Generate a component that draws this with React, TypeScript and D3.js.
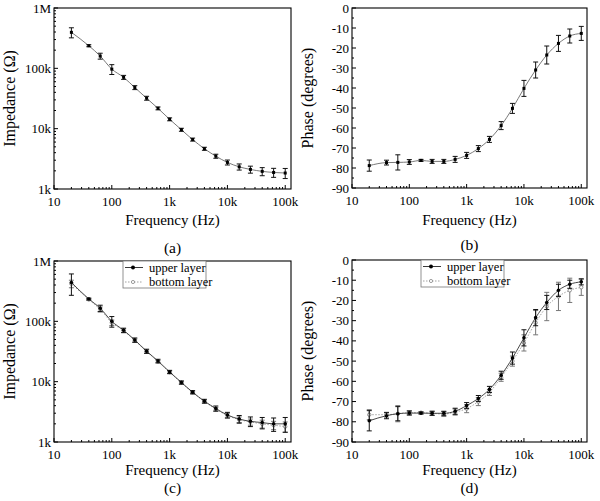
import React from "react";
import * as d3 from "d3";

const freqs = [20, 40, 63, 100, 160, 250, 400, 630, 1000, 1600, 2500, 4000, 6300, 10000, 16000, 25000, 40000, 63000, 100000];

const impA = [395000, 237000, 160000, 97000, 71000, 48000, 32000, 21700, 14300, 9600, 6600, 4650, 3500, 2760, 2330, 2110, 1960, 1880, 1840];
const impAErr = [75000, 9000, 18000, 18000, 5400, 3600, 2400, 1200, 800, 550, 380, 270, 270, 260, 270, 280, 300, 320, 350];

const phaseB = [-78.8, -77.3, -77.2, -77.0, -76.2, -76.7, -76.7, -75.7, -73.7, -70.3, -65.7, -58.8, -50.2, -40.2, -31, -23.5, -17.7, -14, -12.7];
const phaseBErr = [2.8, 1.2, 3.8, 1.2, 0.5, 1, 1, 1.5, 1.5, 1.5, 1.5, 2, 2.5, 4, 4, 4.5, 4, 3.5, 3.5];

const impUpper = [440000, 235000, 165000, 100000, 71000, 49000, 32000, 22000, 14500, 9700, 6700, 4750, 3600, 2800, 2400, 2200, 2100, 2000, 2000];
const impUpperErr = [170000, 8000, 20000, 20000, 6000, 4000, 2500, 1500, 900, 600, 400, 350, 350, 300, 350, 400, 450, 500, 550];
const impBottom = [420000, 230000, 158000, 95000, 70000, 48000, 31500, 21500, 14300, 9600, 6600, 4700, 3500, 2750, 2350, 2150, 2000, 1900, 1800];
const impBottomErr = [60000, 8000, 15000, 10000, 5000, 3000, 2000, 1000, 700, 500, 350, 250, 250, 250, 250, 250, 300, 300, 350];

const phaseUpper = [-79.5, -77, -76, -75.7, -75.7, -75.8, -75.8, -74.8, -72, -68.5, -64, -57, -48.5, -38.5, -28.5, -21, -15, -12, -10.8];
const phaseUpperErr = [5, 1.5, 3.5, 1, 0.5, 1, 1, 1.5, 1.5, 1.5, 1.5, 2, 3, 4, 4, 3.5, 3, 2, 1.5];
const phaseBottom = [-76.5, -76.5, -76, -75.5, -75.5, -75.8, -76.2, -75.2, -73.5, -70, -65.5, -58, -50, -41, -31, -23, -18, -15, -13.5];
const phaseBottomErr = [2.5, 1.2, 4, 1, 0.5, 1, 1.2, 1.5, 2, 2, 1.5, 2, 2.5, 4, 6, 7, 7, 6, 4];

const xTickLabels = ["10", "100", "1k", "10k", "100k"];
const impTickLabels = ["1k", "10k", "100k", "1M"];
const phaseTickLabels = ["0", "-10", "-20", "-30", "-40", "-50", "-60", "-70", "-80", "-90"];
const legendLabels = ["upper layer", "bottom layer"];
const panelLabels = ["(a)", "(b)", "(c)", "(d)"];

const FONT = "'Liberation Serif', 'Times New Roman', serif";

type Series = { values: number[]; errs: number[]; kind: "single" | "upper" | "bottom" };

type PanelProps = {
  left: number; top: number; right: number; bottom: number;
  logY: boolean; yTitle: string; label: string; series: Series[]; legend: boolean;
  titleOff: number; labelOff: number;
};

function Panel({ left, top, right, bottom, logY, yTitle, label, series, legend, titleOff, labelOff }: PanelProps) {
  const x = d3.scaleLog().domain([10, Math.pow(10, 5.1)]).range([left, right]);
  const y: any = logY
    ? d3.scaleLog().domain([1000, 1e6]).range([bottom, top])
    : d3.scaleLinear().domain([-90, 0]).range([bottom, top]);

  const xMajors = [10, 100, 1000, 10000, 100000];
  const xMinors: number[] = [];
  for (let dec = 10; dec < 200000; dec *= 10)
    for (let m = 2; m <= 9; m++) if (dec * m < Math.pow(10, 5.1)) xMinors.push(dec * m);

  const yMajors = logY ? [1000, 10000, 100000, 1e6] : d3.range(0, -91, -10);
  const yLabels = logY ? impTickLabels : phaseTickLabels;
  const yMinors: number[] = [];
  if (logY) {
    for (let dec = 1000; dec < 1e6; dec *= 10) for (let m = 2; m <= 9; m++) yMinors.push(dec * m);
  } else {
    for (let v = -85; v < 0; v += 10) yMinors.push(v);
  }

  const line = d3.line<number>().x((_, i) => x(freqs[i])).y((v) => y(v)).curve(d3.curveMonotoneX);
  const cx = (left + right) / 2;
  const cy = (top + bottom) / 2;

  return (
    <g>
      {series.map((s, si) => {
        const stroke = s.kind === "bottom" ? "#9a9a9a" : s.kind === "upper" ? "#333" : "#6a6a6a";
        const errColor = s.kind === "bottom" ? "#777" : "#111";
        return (
          <g key={si}>
            <path d={line(s.values) || ""} fill="none" stroke={stroke} strokeWidth={0.9}
              strokeDasharray={s.kind === "bottom" ? "1.5,1.5" : undefined} />
            {s.values.map((v, i) => {
              const px = x(freqs[i]);
              const hi = y(v + s.errs[i]);
              const loY = logY ? y(Math.max(v - s.errs[i], 1001)) : y(v - s.errs[i]);
              return (
                <g key={i}>
                  <line x1={px} x2={px} y1={loY} y2={hi} stroke={errColor} strokeWidth={1} />
                  <line x1={px - 2.5} x2={px + 2.5} y1={loY} y2={loY} stroke={errColor} strokeWidth={1} />
                  <line x1={px - 2.5} x2={px + 2.5} y1={hi} y2={hi} stroke={errColor} strokeWidth={1} />
                  {s.kind === "bottom" ? (
                    <circle cx={px} cy={y(v)} r={1.7} fill="white" stroke="#777" strokeWidth={0.8} />
                  ) : s.kind === "upper" ? (
                    <circle cx={px} cy={y(v)} r={1.8} fill="#000" />
                  ) : (
                    <rect x={px - 1.5} y={y(v) - 1.5} width={3} height={3} fill="#000" />
                  )}
                </g>
              );
            })}
          </g>
        );
      })}

      <rect x={left} y={top} width={right - left} height={bottom - top} fill="none" stroke="#000" strokeWidth={1.1} />

      {xMajors.map((t, i) => (
        <g key={"xm" + i}>
          <line x1={x(t)} x2={x(t)} y1={bottom} y2={bottom - 4} stroke="#000" />
          <text x={x(t)} y={bottom + 17} textAnchor="middle" fontFamily={FONT} fontSize={13}>{xTickLabels[i]}</text>
        </g>
      ))}
      {xMinors.map((t, i) => (
        <line key={"xn" + i} x1={x(t)} x2={x(t)} y1={bottom} y2={bottom - 2} stroke="#000" />
      ))}

      {yMajors.map((t, i) => (
        <g key={"ym" + i}>
          <line x1={left} x2={left + 4} y1={y(t)} y2={y(t)} stroke="#000" />
          <text x={left - 3} y={y(t) + 4.5} textAnchor="end" fontFamily={FONT} fontSize={13}>{yLabels[i]}</text>
        </g>
      ))}
      {yMinors.map((t, i) => (
        <line key={"yn" + i} x1={left} x2={left + 2} y1={y(t)} y2={y(t)} stroke="#000" />
      ))}

      <text x={cx} y={bottom + titleOff} textAnchor="middle" fontFamily={FONT} fontSize={15}>Frequency (Hz)</text>
      <text x={cx} y={bottom + labelOff} textAnchor="middle" fontFamily={FONT} fontSize={15.5}>{label}</text>
      <text transform={`translate(${left - 39},${cy}) rotate(-90)`} textAnchor="middle" fontFamily={FONT} fontSize={16}>{yTitle}</text>

      {legend && (
        <g>
          <rect x={left + 69} y={top} width={83} height={27} fill="white" stroke="#777" strokeWidth={0.8} />
          <line x1={left + 71} x2={left + 89} y1={top + 6.5} y2={top + 6.5} stroke="#222" strokeWidth={0.9} />
          <circle cx={left + 79} cy={top + 6.5} r={2} fill="#000" />
          <text x={left + 95} y={top + 10.5} fontFamily={FONT} fontSize={12.5}>{legendLabels[0]}</text>
          <line x1={left + 71} x2={left + 89} y1={top + 21} y2={top + 21} stroke="#999" strokeWidth={0.9} strokeDasharray="1.5,1.5" />
          <circle cx={left + 79} cy={top + 21} r={1.6} fill="white" stroke="#888" strokeWidth={0.8} />
          <text x={left + 95} y={top + 25} fontFamily={FONT} fontSize={12.5}>{legendLabels[1]}</text>
        </g>
      )}
    </g>
  );
}

export default function App() {
  return (
    <div style={{ position: "absolute", left: 0, top: 0 }}>
      <svg width={600} height={501} style={{ display: "block", background: "white" }}>
        <Panel left={54} top={8} right={291} bottom={189} logY yTitle="Impedance (Ω)" label={panelLabels[0]}
          series={[{ values: impA, errs: impAErr, kind: "single" }]} legend={false} titleOff={36} labelOff={64} />
        <Panel left={352} top={8} right={587} bottom={188} logY={false} yTitle="Phase (degrees)" label={panelLabels[1]}
          series={[{ values: phaseB, errs: phaseBErr, kind: "single" }]} legend={false} titleOff={37} labelOff={62} />
        <Panel left={54} top={261} right={291} bottom={442} logY yTitle="Impedance (Ω)" label={panelLabels[2]}
          series={[{ values: impBottom, errs: impBottomErr, kind: "bottom" }, { values: impUpper, errs: impUpperErr, kind: "upper" }]} legend
          titleOff={33} labelOff={51} />
        <Panel left={352} top={260} right={587} bottom={442} logY={false} yTitle="Phase (degrees)" label={panelLabels[3]}
          series={[{ values: phaseBottom, errs: phaseBottomErr, kind: "bottom" }, { values: phaseUpper, errs: phaseUpperErr, kind: "upper" }]} legend
          titleOff={33} labelOff={51} />
      </svg>
    </div>
  );
}
